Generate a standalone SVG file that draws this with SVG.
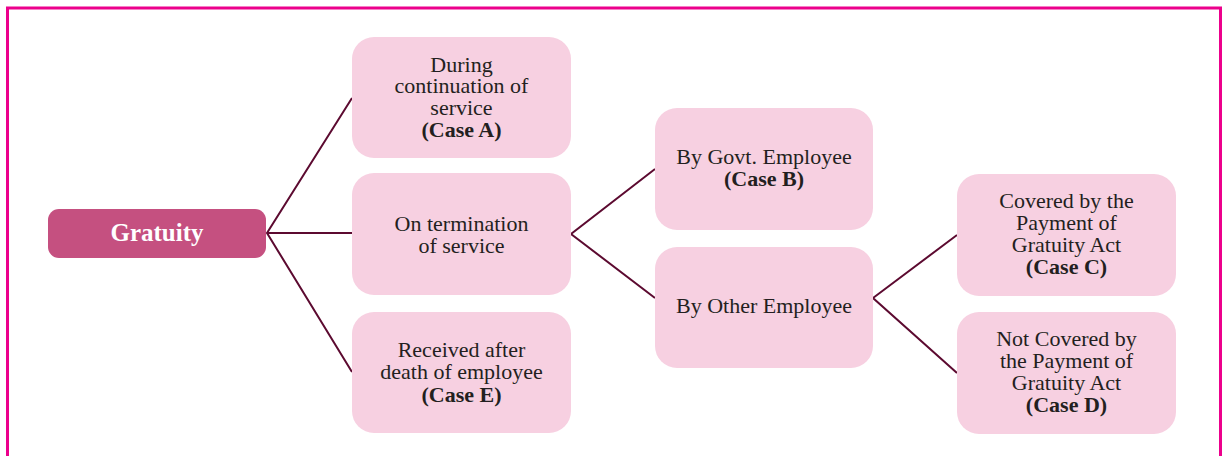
<svg xmlns="http://www.w3.org/2000/svg" width="1224" height="456" viewBox="0 0 1224 456">
<style>
.frame{fill:none;stroke:#EC008C;stroke-width:3}
.box{fill:#F7D0E1}
.root{fill:#C55080}
.t{font-family:"Liberation Serif","Times New Roman",serif;font-size:22px;fill:#231F20;text-anchor:middle}
.b{font-weight:bold}
.rt{font-family:"Liberation Serif","Times New Roman",serif;font-size:25px;font-weight:bold;fill:#FFFFFF;text-anchor:middle}
.c{fill:none;stroke:#5C0A30;stroke-width:2;stroke-linejoin:miter}
</style>
<rect x="0" y="0" width="1224" height="456" fill="#FFFFFF"/>
<rect class="frame" x="7.5" y="8" width="1213" height="460"/>
<g id="connectors">
<polyline class="c" points="352,98 267,233 352,372"/>
<line class="c" x1="267" y1="233" x2="352" y2="233"/>
<polyline class="c" points="655,169 571,234 655,298"/>
<polyline class="c" points="957,235 873,298 957,373"/>
</g>
<g id="gratuity">
<rect class="root" x="48" y="209" width="218" height="49" rx="11"/>
<text class="rt" x="157" y="241">Gratuity</text>
</g>
<g id="caseA">
<rect class="box" x="352" y="37" width="219" height="121" rx="22"/>
<text class="t" x="461.5" y="71.5">During</text>
<text class="t" x="461.5" y="93">continuation of</text>
<text class="t" x="461.5" y="114.5">service</text>
<text class="t b" x="461.5" y="136.5">(Case A)</text>
</g>
<g id="termination">
<rect class="box" x="352" y="173" width="219" height="122" rx="22"/>
<text class="t" x="461.5" y="230.5">On termination</text>
<text class="t" x="461.5" y="252.5">of service</text>
</g>
<g id="caseE">
<rect class="box" x="352" y="312" width="219" height="121" rx="22"/>
<text class="t" x="461.5" y="356.5">Received after</text>
<text class="t" x="461.5" y="378.5">death of employee</text>
<text class="t b" x="461.5" y="401.5">(Case E)</text>
</g>
<g id="caseB">
<rect class="box" x="655" y="108" width="218" height="122" rx="22"/>
<text class="t" x="764" y="164">By Govt. Employee</text>
<text class="t b" x="764" y="186">(Case B)</text>
</g>
<g id="other">
<rect class="box" x="655" y="247" width="218" height="121" rx="22"/>
<text class="t" x="764" y="312.5">By Other Employee</text>
</g>
<g id="caseC">
<rect class="box" x="957" y="174" width="219" height="122" rx="22"/>
<text class="t" x="1066.5" y="207.5">Covered by the</text>
<text class="t" x="1066.5" y="229.5">Payment of</text>
<text class="t" x="1066.5" y="251.5">Gratuity Act</text>
<text class="t b" x="1066.5" y="273.5">(Case C)</text>
</g>
<g id="caseD">
<rect class="box" x="957" y="312" width="219" height="122" rx="22"/>
<text class="t" x="1066.5" y="346">Not Covered by</text>
<text class="t" x="1066.5" y="367.5">the Payment of</text>
<text class="t" x="1066.5" y="390">Gratuity Act</text>
<text class="t b" x="1066.5" y="411.5">(Case D)</text>
</g>
</svg>
